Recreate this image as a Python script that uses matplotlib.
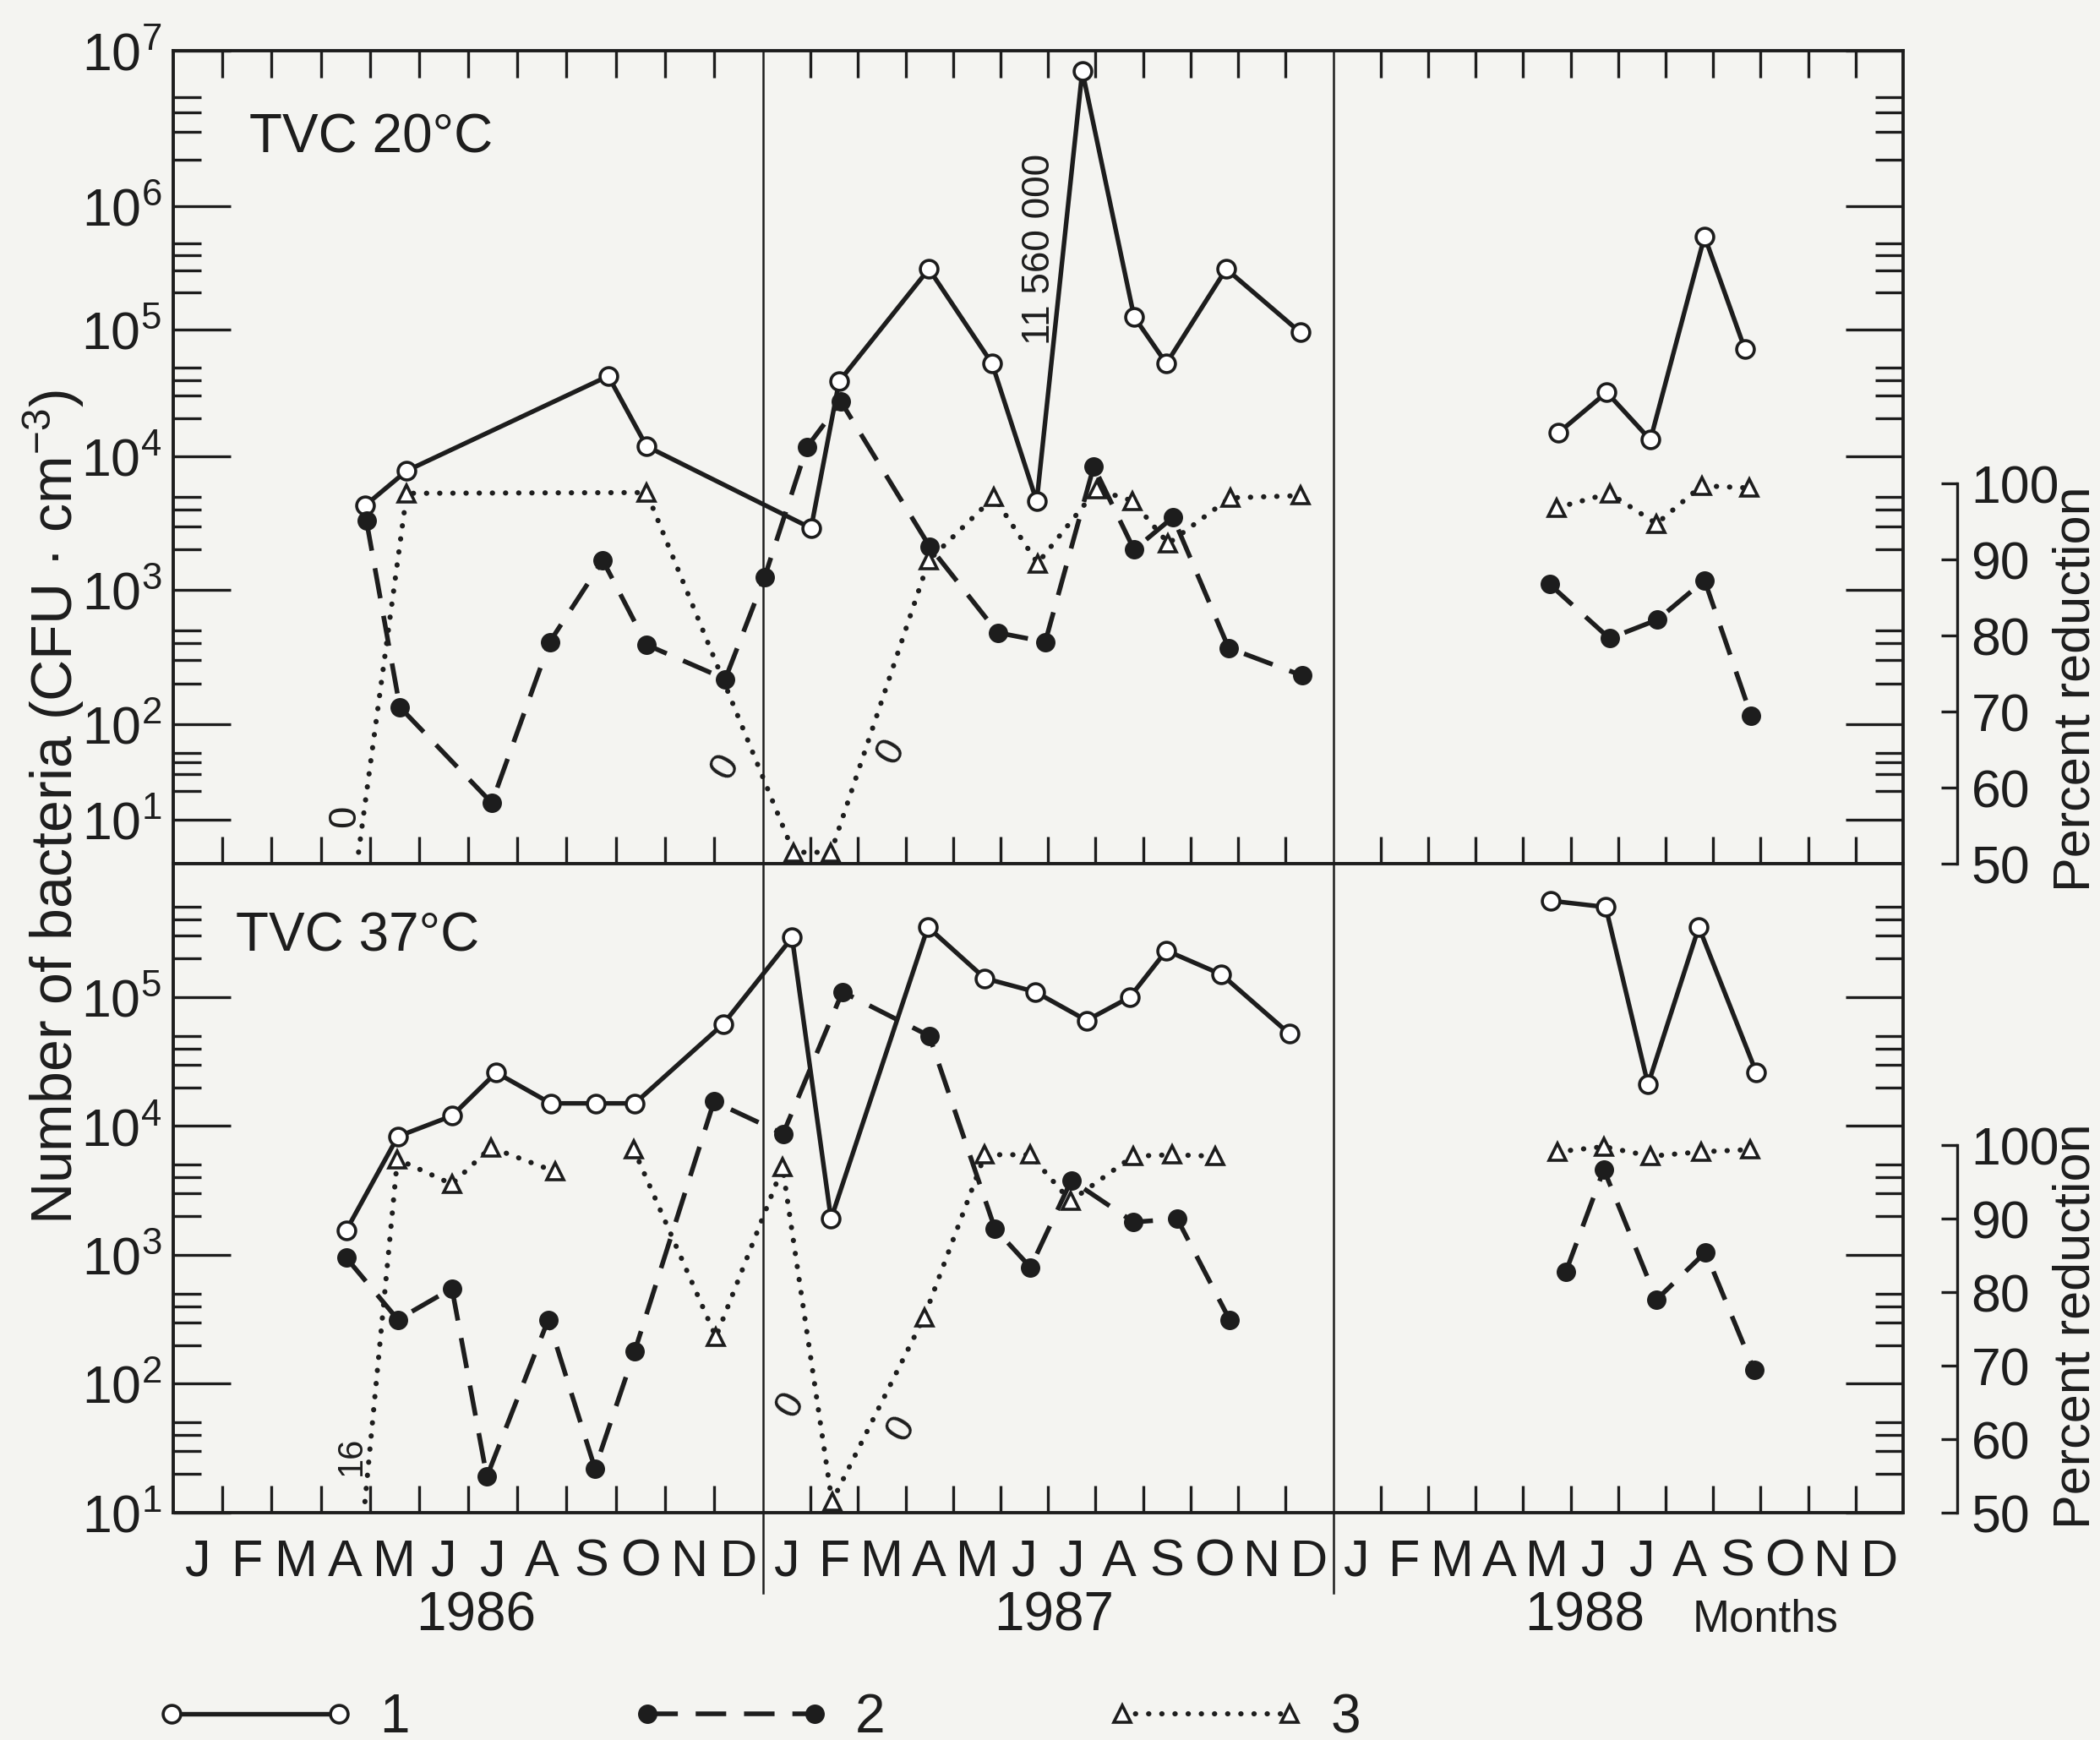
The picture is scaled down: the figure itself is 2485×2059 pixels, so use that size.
import numpy as np
import matplotlib.pyplot as plt
from matplotlib.ticker import FixedLocator, FixedFormatter, NullFormatter

plt.rcParams['font.family'] = ['Liberation Sans', 'DejaVu Sans']
plt.rcParams['mathtext.default'] = 'regular'

nan = np.nan

# x values are months counted from the start of Jan 1986
months = ['J', 'F', 'M', 'A', 'M', 'J', 'J', 'A', 'S', 'O', 'N', 'D'] * 3
years = ['1986', '1987', '1988']

# TVC 20 C  (1 = open circles, 2 = filled circles, 3 = percent reduction)
t20_m1 = [3.91, 4.75, 8.85, 9.63, 13.01, 13.60, 15.49, 16.82, 17.76, 18.72, 19.81,
          20.49, 21.75, 23.31, nan, 28.75, 29.76, 30.68, 31.82, 32.67]
t20_v1 = [4.3e3, 7.8e3, 4.3e4, 1.2e4, 2.9e3, 3.9e4, 3.1e5, 5.4e4, 4.6e3, 7.4e6, 1.27e5,
          5.4e4, 3.1e5, 9.5e4, nan, 1.54e4, 3.2e4, 1.35e4, 5.7e5, 7.0e4]

t20_m2 = [3.93, 4.61, 6.48, 7.66, 8.74, 9.63, 11.23, 12.03, 12.92, 13.64, 15.51, 16.94,
          17.94, 18.96, 19.81, 20.63, 21.80, 23.35, nan, 28.56, 29.82, 30.83, 31.82, 32.80]
t20_v2 = [3.3e3, 134, 15, 410, 1.66e3, 390, 217, 1.24e3, 1.18e4, 2.7e4, 2.1e3, 480,
          410, 8.4e3, 2.0e3, 3.5e3, 370, 230, nan, 1.1e3, 435, 600, 1.18e3, 116]

t20_m3 = [3.77, 4.75, 9.63, 12.64, 13.43, 15.49, 16.86, 17.78, 19.02, 19.78, 20.53,
          21.83, 23.31, nan, 28.71, 29.82, 30.81, 31.76, 32.77]
t20_p3 = [0, 98.7, 98.8, 0, 0, 89.9, 98.2, 89.5, 99.2, 97.7, 92.1,
          98.1, 98.4, nan, 96.8, 98.7, 94.7, 99.7, 99.4]

# TVC 37 C
t37_m1 = [3.52, 4.57, 5.67, 6.57, 7.68, 8.60, 9.39, 11.19, 12.61, 13.43, 15.47, 16.67,
          17.73, 18.81, 19.72, 20.49, 21.65, 23.08, nan, 28.58, 29.74, 30.63, 31.70, 32.91]
t37_v1 = [1.55e3, 8.3e3, 1.2e4, 2.6e4, 1.5e4, 1.5e4, 1.5e4, 6.2e4, 2.9e5, 1.9e3, 3.5e5, 1.4e5,
          1.1e5, 6.6e4, 1.0e5, 2.3e5, 1.5e5, 5.2e4, nan, 5.6e5, 5.0e5, 2.1e4, 3.5e5, 2.6e4]

t37_m2 = [3.52, 4.57, 5.67, 6.38, 7.63, 8.58, 9.39, 11.0, 12.42, 13.67, 15.50, 16.88,
          17.63, 18.49, 19.80, 20.72, 21.82, nan, 28.90, 29.70, 30.81, 31.84, 32.86]
t37_v2 = [950, 315, 550, 19, 315, 22, 180, 1.55e4, 8.7e3, 1.1e5, 5.0e4, 1.6e3,
          800, 3.8e3, 1.8e3, 1.9e3, 315, nan, 740, 4.6e3, 450, 1.05e3, 129]

t37_m3 = [3.90, 4.56, 5.67, 6.46, 7.77, nan, 9.37, 11.04, 12.41, 13.45, 15.39, 16.67,
          17.62, 18.47, 19.79, 20.61, 21.51, nan, 28.72, 29.70, 30.68, 31.75, 32.78]
t37_p3 = [16, 98.1, 94.7, 99.7, 96.4, nan, 99.4, 73.9, 97.0, 0, 76.6, 98.7,
          98.7, 92.4, 98.5, 98.7, 98.5, nan, 99.1, 99.8, 98.5, 99.1, 99.4]

ink = '#1d1d1d'
paper = '#f4f4f1'

W, H = 2485, 2059
fig = plt.figure(figsize=(W / 100, H / 100), dpi=100, facecolor=paper)


def box(l, t, r, b):
    return [l / W, 1 - b / H, (r - l) / W, (b - t) / H]


ax_up = fig.add_axes(box(205, 60, 2252, 1022), facecolor=paper)
ax_lo = fig.add_axes(box(205, 1022, 2252, 1790), facecolor=paper)

# the drawn month axis: 1986 is slightly wider than 1987/1988
yr_mo = [0, 12, 36]
yr_px = [205, 903, 2252]


def x_fwd(m):
    return np.interp(m, yr_mo, yr_px)


def x_inv(p):
    return np.interp(p, yr_px, yr_mo)


# the 20 C log axis is hand drawn with uneven decades
dec20 = [0.54, 1, 2, 3, 4, 5, 6, 7]
pos20 = [-1022, -970, -857, -698, -540, -390, -244, -60]


def y20_fwd(v):
    with np.errstate(divide='ignore', invalid='ignore'):
        return np.interp(np.log10(v), dec20, pos20)


def y20_inv(t):
    return 10 ** np.interp(t, pos20, dec20)


def shown_pct(p):
    # values below the 50 % floor are drawn on the bottom edge
    p = np.asarray(p, float)
    return np.where(p < 50, 51.5, p)


s1 = dict(color=ink, lw=3.9, ls='-', marker='o', ms=15, mfc='white', mec=ink, mew=2.6)
s2 = dict(color=ink, lw=4.0, ls=(0, (6.5, 3.8)), marker='o', ms=15.5, mfc=ink, mec=ink)
s3 = dict(color=ink, lw=4.4, ls=(0, (0.05, 2.5)), dash_capstyle='round', marker='^',
          ms=15, mfc='white', mec=ink, mew=2.6)


def pct_axis(ax, top):
    tw = ax.twinx()
    tw.set_ylim(50, top)
    for side in ('top', 'bottom', 'left'):
        tw.spines[side].set_visible(False)
    sp = tw.spines['right']
    sp.set_position(('outward', 46))
    sp.set_bounds(50, 100)
    sp.set_linewidth(2.4)
    sp.set_color(ink)
    tw.set_yticks([50, 60, 70, 80, 90, 100])
    tw.tick_params(axis='y', direction='in', length=14, width=2.4, labelsize=45,
                   pad=12, colors=ink)
    return tw


pc_up = pct_axis(ax_up, 156.9)
pc_lo = pct_axis(ax_lo, 138.3)

bounds = [m for m in range(1, 36) if m % 12]
centers = np.arange(36) + 0.5

for ax in (ax_up, ax_lo):
    ax.set_xscale('function', functions=(x_fwd, x_inv))
    ax.set_xlim(0, 36)
    ax.xaxis.set_major_locator(FixedLocator(bounds))
    ax.xaxis.set_major_formatter(NullFormatter())
    ax.xaxis.set_minor_locator(FixedLocator(centers))
    for sp in ax.spines.values():
        sp.set_linewidth(2.8)
        sp.set_color(ink)

ax_up.xaxis.set_minor_formatter(NullFormatter())
ax_lo.xaxis.set_minor_formatter(FixedFormatter(months))

ax_up.set_yscale('function', functions=(y20_fwd, y20_inv))
ax_up.set_ylim(10 ** 0.54, 1e7)
ax_up.yaxis.set_major_locator(FixedLocator([10.0 ** k for k in range(1, 8)]))
ax_up.yaxis.set_major_formatter(FixedFormatter(['$10^{%d}$' % k for k in range(1, 8)]))
ax_up.yaxis.set_minor_locator(FixedLocator([s * 10.0 ** k for k in range(1, 7) for s in (2, 3, 4, 5)]))
ax_up.yaxis.set_minor_formatter(NullFormatter())

ax_lo.set_yscale('log')
ax_lo.set_ylim(10, 10 ** 6.036)
ax_lo.yaxis.set_major_locator(FixedLocator([10.0 ** k for k in range(1, 6)]))
ax_lo.yaxis.set_major_formatter(FixedFormatter(['$10^{%d}$' % k for k in range(1, 6)]))
ax_lo.yaxis.set_minor_locator(FixedLocator([s * 10.0 ** k for k in range(1, 6) for s in (2, 3, 4, 5)]))
ax_lo.yaxis.set_minor_formatter(NullFormatter())

for ax in (ax_up, ax_lo):
    ax.tick_params(axis='y', which='major', direction='in', length=49, width=2.4,
                   left=True, right=True, labelleft=True, labelright=False,
                   labelsize=45, pad=10, colors=ink)
    ax.tick_params(axis='y', which='minor', direction='in', length=24, width=2.4,
                   left=True, right=True, colors=ink)
    ax.tick_params(axis='x', which='major', direction='in', length=23, width=2.4,
                   bottom=True, top=(ax is ax_up), colors=ink)
    ax.tick_params(axis='x', which='minor', length=0, labelsize=44, pad=22,
                   bottom=True, top=False, colors=ink)

# year dividers
for yr in (12, 24):
    ax_up.axvline(yr, color=ink, lw=1.8)
    ax_lo.axvline(yr, ymin=-0.124, ymax=1, color=ink, lw=1.8, clip_on=False)

# series (the off-scale first percent value has no marker in the original)
h1, = ax_up.plot(t20_m1, t20_v1, **s1)
h2, = ax_up.plot(t20_m2, t20_v2, **s2)
h3, = pc_up.plot(t20_m3, shown_pct(t20_p3), markevery=list(range(1, len(t20_m3))), **s3)
ax_lo.plot(t37_m1, t37_v1, **s1)
ax_lo.plot(t37_m2, t37_v2, **s2)
pc_lo.plot(t37_m3, shown_pct(t37_p3), markevery=list(range(1, len(t37_m3))), **s3)

# annotations
ax_up.text(0.044, 0.892, 'TVC 20°C', transform=ax_up.transAxes, fontsize=46,
           ha='left', va='center', color=ink)
ax_lo.text(0.036, 0.887, 'TVC 37°C', transform=ax_lo.transAxes, fontsize=46,
           ha='left', va='center', color=ink)
ax_up.text(17.82, 4.5e5, '11 560 000', rotation=90, fontsize=33, ha='center',
           va='center', color=ink)
ax_up.text(3.49, 11, '0', rotation=90, fontsize=34, ha='center', va='center', color=ink)
ax_up.text(11.23, 36, '0', rotation=60, fontsize=34, ha='center', va='center', color=ink)
ax_up.text(14.69, 51, '0', rotation=60, fontsize=34, ha='center', va='center', color=ink)
ax_lo.text(12.57, 68, '0', rotation=60, fontsize=34, ha='center', va='center', color=ink)
ax_lo.text(14.90, 45, '0', rotation=60, fontsize=34, ha='center', va='center', color=ink)
ax_lo.text(3.62, 27.5, '16', rotation=90, fontsize=30, ha='center', va='center', color=ink)

fig.text(0.0254, 0.536, 'Number of bacteria (CFU · cm$^{-3}$)', rotation=90,
         fontsize=49, ha='center', va='center', color=ink)
fig.text(0.9887, 0.604, 'Percent reduction', rotation=90, fontsize=44,
         ha='center', va='center', color=ink)
fig.text(0.9887, 0.238, 'Percent reduction', rotation=90, fontsize=44,
         ha='center', va='center', color=ink)

for yr, xf in zip(years, (0.2266, 0.5018, 0.7545)):
    fig.text(xf, 0.071, yr, fontsize=46, ha='center', va='center', color=ink)
fig.text(0.8406, 0.069, 'Months', fontsize=38, ha='center', va='center', color=ink)

fig.legend([h1, h2, h3], ['1', '2', '3'], loc='center left',
           bbox_to_anchor=(0.074, 0.0125), ncol=3, frameon=False, fontsize=46,
           handlelength=3.7, handletextpad=0.45, columnspacing=4.1, numpoints=2,
           borderpad=0, borderaxespad=0, labelcolor=ink)

fig.savefig('out.png', dpi=100, facecolor=paper)
